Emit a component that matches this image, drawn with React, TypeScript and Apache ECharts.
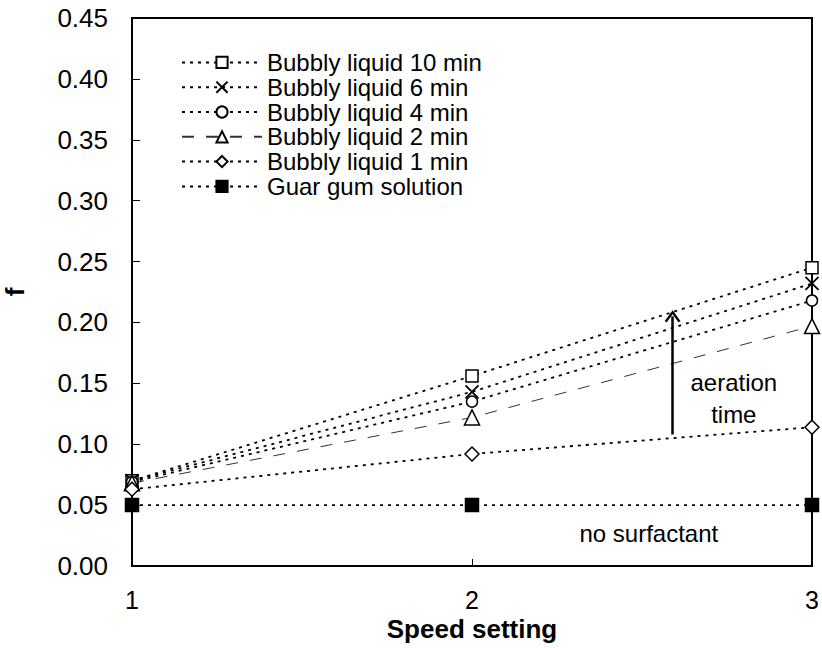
import React, { useEffect, useRef } from "react";
import * as echarts from "echarts";

const speeds = [1, 2, 3];
const bubbly10 = [0.07, 0.156, 0.245];
const bubbly6 = [0.07, 0.143, 0.232];
const bubbly4 = [0.069, 0.135, 0.218];
const bubbly2 = [0.068, 0.122, 0.197];
const bubbly1 = [0.063, 0.092, 0.114];
const guar = [0.05, 0.05, 0.05];

const seriesNames = [
  "Bubbly liquid 10 min",
  "Bubbly liquid 6 min",
  "Bubbly liquid 4 min",
  "Bubbly liquid 2 min",
  "Bubbly liquid 1 min",
  "Guar gum solution",
];

const arrowFrom = [2.59, 0.108];
const arrowTo = [2.59, 0.205];
const notes = [
  { text: "aeration", x: 2.77, y: 0.151 },
  { text: "time", x: 2.77, y: 0.124 },
  { text: "no surfactant", x: 2.52, y: 0.027 },
];

const FONT = "'Liberation Sans', Arial, sans-serif";
const crossPath = "path://M0,0L10,10M10,0L0,10";
const chevronPath = "path://M0,10L5,0L10,10L8.6,11L5,3.6L1.4,11Z";

export default function App() {
  const ref = useRef<HTMLDivElement>(null);
  useEffect(() => {
    if (!ref.current) return;
    const chart = echarts.init(ref.current, null, { renderer: "svg" });
    const pts = (vals: number[]) => speeds.map((s, i) => [s, vals[i]]);
    const dotted = { color: "#000", width: 1.8, type: [3, 5] as any };
    const mk = (
      name: string,
      vals: number[],
      symbol: string,
      size: number,
      fill: string,
      lineStyle: any,
      extra: any = {}
    ) => ({
      name,
      type: "line",
      data: pts(vals),
      symbol,
      symbolSize: size,
      lineStyle,
      itemStyle: { color: fill, borderColor: "#000", borderWidth: 1.5 },
      emphasis: { disabled: true },
      z: 3,
      ...extra,
    });
    chart.setOption({
      animation: false,
      backgroundColor: "#fff",
      grid: {
        left: 132,
        right: 10,
        top: 18,
        bottom: 82,
        outerBoundsMode: "none",
        containLabel: false,
        show: true,
        borderColor: "#000",
        borderWidth: 2,
        backgroundColor: "transparent",
      },
      legend: {
        left: 176,
        top: 45,
        orient: "vertical",
        itemWidth: 80,
        itemHeight: 14,
        itemGap: 0,
        data: seriesNames,
        textStyle: {
          fontFamily: FONT,
          fontSize: 24,
          color: "#000",
          lineHeight: 24.8,
          height: 24.8,
          padding: [0, 0, 0, 0],
        },
      },
      xAxis: {
        type: "value",
        min: 1,
        max: 3,
        interval: 1,
        name: "Speed setting",
        nameLocation: "middle",
        nameGap: 50,
        nameMoveOverlap: false,
        nameTextStyle: {
          fontFamily: FONT,
          fontSize: 26,
          fontWeight: "bold",
          color: "#000",
        },
        axisLine: { lineStyle: { color: "#000", width: 2 } },
        axisTick: { inside: true, length: 7, lineStyle: { color: "#000", width: 1 } },
        axisLabel: {
          margin: 21,
          fontFamily: FONT,
          fontSize: 25,
          color: "#000",
        },
        splitLine: { show: false },
      },
      yAxis: {
        type: "value",
        min: 0,
        max: 0.45,
        interval: 0.05,
        name: "f",
        nameLocation: "middle",
        nameRotate: 90,
        nameGap: 104,
        nameMoveOverlap: false,
        nameTextStyle: {
          fontFamily: FONT,
          fontSize: 26,
          fontWeight: "bold",
          color: "#000",
        },
        axisLine: { lineStyle: { color: "#000", width: 2 } },
        axisTick: { inside: true, length: 8, lineStyle: { color: "#000", width: 1 } },
        axisLabel: {
          margin: 24,
          fontFamily: FONT,
          fontSize: 26,
          color: "#000",
          formatter: (v: number) => v.toFixed(2),
        },
        splitLine: { show: false },
      },
      series: [
        mk(seriesNames[0], bubbly10, "rect", 12, "#fff", dotted),
        mk(seriesNames[1], bubbly6, crossPath, 13, "none", dotted, {
          itemStyle: { color: "none", borderColor: "#000", borderWidth: 1.8 },
        }),
        mk(seriesNames[2], bubbly4, "circle", 11, "#fff", dotted),
        mk(seriesNames[3], bubbly2, "triangle", 15, "#fff", {
          color: "#333",
          width: 1,
          type: [12, 12],
        }),
        mk(seriesNames[4], bubbly1, "diamond", 14, "#fff", dotted),
        mk(seriesNames[5], guar, "rect", 13, "#000", dotted, {
          markLine: {
            silent: true,
            symbol: ["none", chevronPath],
            symbolSize: [16, 12],
            lineStyle: { color: "#000", width: 2.5, type: "solid" },
            label: { show: false },
            data: [[{ coord: arrowFrom }, { coord: arrowTo }]],
          },
          markPoint: {
            silent: true,
            symbol: "circle",
            symbolSize: 0,
            itemStyle: { color: "transparent" },
            label: {
              show: true,
              position: "inside",
              fontFamily: FONT,
              fontSize: 24,
              color: "#000",
              formatter: (p: any) => p.name,
            },
            data: notes.map((n) => ({ name: n.text, coord: [n.x, n.y] })),
          },
        }),
      ],
    });
    return () => chart.dispose();
  }, []);
  return (
    <div
      ref={ref}
      style={{ position: "fixed", left: 0, top: 0, width: 822, height: 648 }}
    />
  );
}
